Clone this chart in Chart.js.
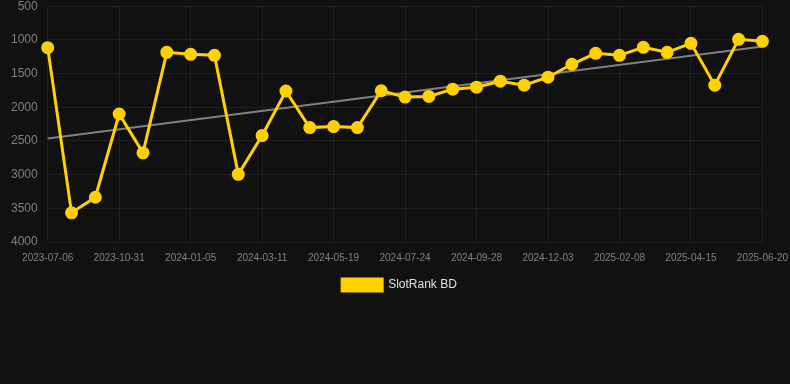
<!DOCTYPE html>
<html lang="en">
<head>
    <meta charset="UTF-8">
    <title>SlotRank BD</title>
    <style>
        html, body {
            margin: 0;
            padding: 0;
            background: #111111;
            overflow: hidden;
            font-family: 'Liberation Sans', Arial, sans-serif;
        }
        .wrap {
            width: 798px;
            height: 312px;
            margin-top: -11px;
        }
    </style>
</head>
<body>
<div class="wrap">
    <canvas id="chart"></canvas>
</div>

<script src="https://cdn.jsdelivr.net/npm/chart.js@4.4.1/dist/chart.umd.min.js"></script>
<script>
  const dates = [
    '2023-07-06', '2023-08-14', '2023-09-22', '2023-10-31', '2023-11-22', '2023-12-14',
    '2024-01-05', '2024-01-27', '2024-02-18', '2024-03-11', '2024-04-03', '2024-04-26',
    '2024-05-19', '2024-06-10', '2024-07-02', '2024-07-24', '2024-08-15', '2024-09-06',
    '2024-09-28', '2024-10-20', '2024-11-11', '2024-12-03', '2024-12-25', '2025-01-17',
    '2025-02-08', '2025-03-02', '2025-03-24', '2025-04-15', '2025-05-07', '2025-05-29',
    '2025-06-20'
  ];

  const rank = [
    1115, 3567, 3336, 2100, 2676, 1184, 1214, 1229, 2996, 2420, 1760,
    2302, 2287, 2302, 1755, 1849, 1839, 1731, 1702, 1613, 1672, 1554,
    1362, 1199, 1229, 1111, 1184, 1051, 1672, 992, 1022
  ];

  // trend line: only the two ends, gap spanned
  const trend = dates.map(() => null);
  trend[0] = 2465;
  trend[trend.length - 1] = 1098;

  const yTicks = [500, 1000, 1500, 2000, 2500, 3000, 3500, 4000];

  const gridColor = 'rgba(255,255,255,0.06)';

  new Chart(document.getElementById('chart'), {
    type: 'line',
    data: {
      labels: dates,
      datasets: [
        {
          label: 'SlotRank BD',
          data: rank,
          borderColor: '#FFD100',
          backgroundColor: '#FFD100',
          borderWidth: 3,
          pointRadius: 5,
          pointHoverRadius: 6,
          pointBackgroundColor: '#FFD100',
          pointBorderColor: '#FFD100',
          tension: 0,
          order: 1
        },
        {
          label: 'trend',
          data: trend,
          borderColor: '#808080',
          borderWidth: 2,
          pointRadius: 0,
          spanGaps: true,
          tension: 0,
          order: 2
        }
      ]
    },
    options: {
      responsive: true,
      maintainAspectRatio: false,
      animation: false,
      layout: { padding: { left: 1 } },
      scales: {
        x: {
          grid: { color: gridColor, drawTicks: false },
          border: { display: false },
          ticks: {
            color: '#808080',
            font: { size: 10 },
            maxRotation: 0,
            autoSkip: true,
            maxTicksLimit: 11,
            padding: 10
          }
        },
        y: {
          reverse: true,
          min: 500,
          max: 4000,
          afterBuildTicks: axis => { axis.ticks = yTicks.map(v => ({ value: v })); },
          grid: { color: gridColor, drawTicks: false },
          border: { display: false },
          ticks: {
            color: '#808080',
            font: { size: 12 },
            padding: 10,
            callback: v => String(v)
          }
        }
      },
      plugins: {
        legend: {
          position: 'bottom',
          labels: {
            color: '#e0e0e0',
            font: { size: 12 },
            boxWidth: 40,
            boxHeight: 12,
            padding: 5,
            filter: item => item.text !== 'trend'
          }
        },
        tooltip: { enabled: false }
      }
    }
  });
</script>
</body>
</html>
